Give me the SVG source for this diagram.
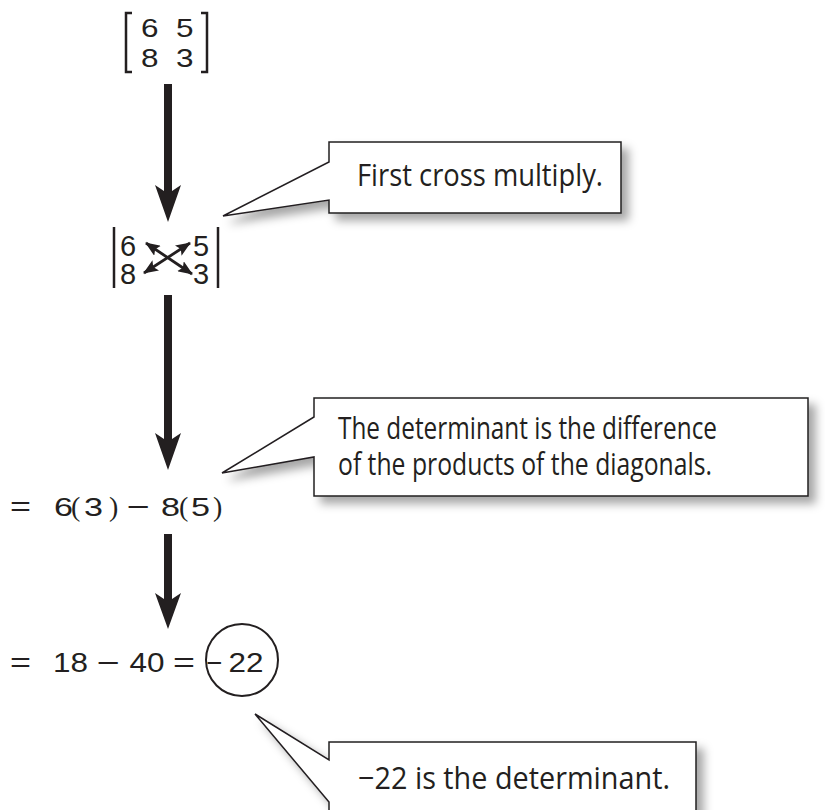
<svg xmlns="http://www.w3.org/2000/svg" width="825" height="810" viewBox="0 0 825 810">
  <defs>
    <style>
      .math { font-family: "Liberation Sans", Arial, sans-serif; fill: #231f20; }
      .paren { font-family: "Liberation Serif", "Times New Roman", serif; fill: #231f20; }
      .note { font-family: "Open Sans", "Noto Sans", sans-serif; font-size: 31px; font-weight: 500; fill: #231f20; }
      .bubble { fill: #ffffff; stroke: #231f20; stroke-width: 1.5; stroke-linejoin: miter; filter: url(#shadow); }
      .flow { fill: #231f20; stroke: none; }
      .bar { stroke: #231f20; stroke-width: 2.5; fill: none; }
      .cross { stroke: #231f20; stroke-width: 2.8; fill: none; marker-start: url(#tip); marker-end: url(#tip); }
    </style>
    <filter id="shadow" x="-10%" y="-20%" width="130%" height="150%">
      <feDropShadow dx="7" dy="7" stdDeviation="5" flood-color="#000000" flood-opacity="0.35"/>
    </filter>
    <marker id="tip" viewBox="0 0 15 12" refX="14" refY="6" markerWidth="15" markerHeight="12" markerUnits="userSpaceOnUse" orient="auto-start-reverse">
      <path d="M0,0 L15,6 L0,12 L3,6 Z" fill="#231f20"/>
    </marker>
  </defs>

  <!-- the 2x2 matrix -->
  <g id="matrix">
    <path class="bar" d="M132,13 H126 V72 H132"/>
    <path class="bar" d="M201,13 H207 V72 H201"/>
    <text class="math" font-size="25" x="141" y="37" textLength="17.5" lengthAdjust="spacingAndGlyphs">6</text>
    <text class="math" font-size="25" x="176" y="37" textLength="17.5" lengthAdjust="spacingAndGlyphs">5</text>
    <text class="math" font-size="25" x="141" y="67" textLength="17.5" lengthAdjust="spacingAndGlyphs">8</text>
    <text class="math" font-size="25" x="176" y="67" textLength="17.5" lengthAdjust="spacingAndGlyphs">3</text>
  </g>

  <!-- determinant with the cross-multiplication arrows -->
  <g id="determinant">
    <line class="bar" x1="114" y1="227" x2="114" y2="288"/>
    <line class="bar" x1="218" y1="227" x2="218" y2="288"/>
    <text class="math" font-size="29"><tspan x="120" y="256">6</tspan><tspan x="120" y="284">8</tspan></text>
    <text class="math" font-size="29"><tspan x="193" y="256">5</tspan><tspan x="193" y="284">3</tspan></text>
    <line class="cross" x1="146" y1="243" x2="192" y2="274"/>
    <line class="cross" x1="144" y1="273" x2="190" y2="243"/>
  </g>

  <!-- expanded products -->
  <g id="products">
    <text class="math" font-size="27" x="10" y="516" textLength="21" lengthAdjust="spacingAndGlyphs">=</text>
    <text class="math" font-size="26" x="54" y="516" textLength="19" lengthAdjust="spacingAndGlyphs">6</text>
    <text class="paren" font-size="28" x="71" y="516">(</text>
    <text class="math" font-size="26" x="84" y="516" textLength="19" lengthAdjust="spacingAndGlyphs">3</text>
    <text class="paren" font-size="28" x="109" y="516">)</text>
    <text class="math" font-size="27" x="127" y="516" textLength="23" lengthAdjust="spacingAndGlyphs">−</text>
    <text class="math" font-size="26" x="161" y="516" textLength="19" lengthAdjust="spacingAndGlyphs">8</text>
    <text class="paren" font-size="28" x="179" y="516">(</text>
    <text class="math" font-size="26" x="191" y="516" textLength="19" lengthAdjust="spacingAndGlyphs">5</text>
    <text class="paren" font-size="28" x="213" y="516">)</text>
  </g>

  <!-- result -->
  <g id="result">
    <text class="math" font-size="27" x="10" y="672" textLength="21" lengthAdjust="spacingAndGlyphs">=</text>
    <text class="math" font-size="27" x="53" y="672" textLength="35" lengthAdjust="spacingAndGlyphs">18</text>
    <text class="math" font-size="27" x="97" y="672" textLength="23" lengthAdjust="spacingAndGlyphs">−</text>
    <text class="math" font-size="27" x="129.5" y="672" textLength="35" lengthAdjust="spacingAndGlyphs">40</text>
    <text class="math" font-size="27" x="173" y="672" textLength="22" lengthAdjust="spacingAndGlyphs">=</text>
    <circle cx="242" cy="660" r="36" fill="none" stroke="#231f20" stroke-width="2"/>
    <text class="math" font-size="27" x="206.5" y="672" textLength="16" lengthAdjust="spacingAndGlyphs">−</text>
    <text class="math" font-size="27" x="228.5" y="672" textLength="35" lengthAdjust="spacingAndGlyphs">22</text>
  </g>

  <!-- callouts -->
  <g id="callout-cross">
    <path class="bubble" d="M329,142 H621 V213 H329 V200 L223,216 L329,162 Z"/>
    <text class="note" x="357" y="186" textLength="246" lengthAdjust="spacingAndGlyphs">First cross multiply.</text>
  </g>

  <g id="callout-difference">
    <path class="bubble" d="M314,398 H808 V496 H314 V457 L222,473 L314,417 Z"/>
    <text class="note"><tspan x="338" y="439" textLength="379" lengthAdjust="spacingAndGlyphs">The determinant is the difference</tspan><tspan x="338" y="475" textLength="374" lengthAdjust="spacingAndGlyphs">of the products of the diagonals.</tspan></text>
  </g>

  <g id="callout-result">
    <path class="bubble" d="M329,742 H696 V816 H329 V802 L255,714 L329,760 Z"/>
    <text class="note" x="358" y="789" textLength="312" lengthAdjust="spacingAndGlyphs">−22 is the determinant.</text>
  </g>

  <!-- downward flow arrows -->
  <g id="connectors">
    <path class="flow" d="M164,84 H172 V191 L181,185 L168,222 L155,185 L164,191 Z"/>
    <path class="flow" d="M164,295 H172 V439 L181,433 L168,470 L155,433 L164,439 Z"/>
    <path class="flow" d="M164,534 H172 V599 L181,593 L168,629 L155,593 L164,599 Z"/>
  </g>
</svg>
